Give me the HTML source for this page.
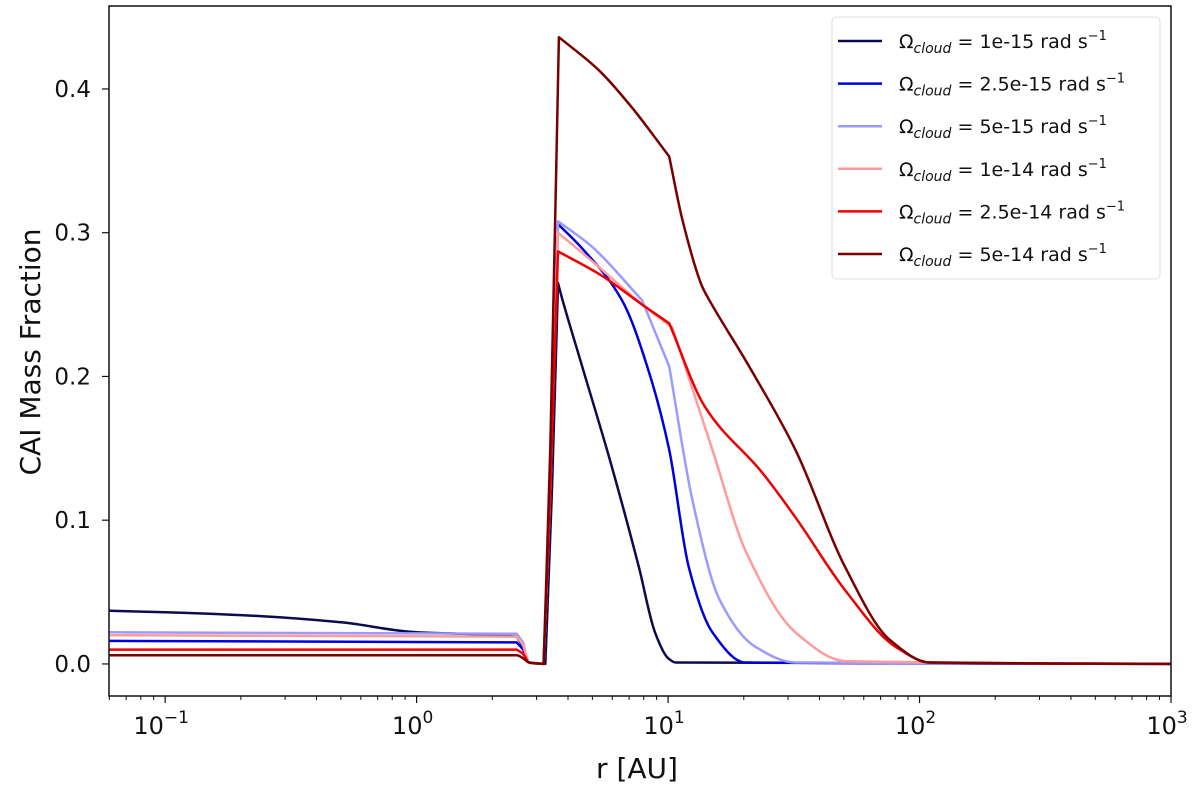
<!DOCTYPE html>
<html><head><meta charset="utf-8"><style>
body{margin:0;background:#fff;width:1200px;height:786px;overflow:hidden}
svg text{font-family:"DejaVu Sans","Liberation Sans",sans-serif;fill:#111}
</style></head><body>
<svg id="chart" width="1200" height="786" xmlns="http://www.w3.org/2000/svg">
<g id="plot"></g>
<g id="axes"></g>
<text x="637" y="778" text-anchor="middle" font-size="28">r [AU]</text>
<text transform="translate(40,352) rotate(-90)" text-anchor="middle" font-size="28">CAI Mass Fraction</text>
<g id="legend"></g>
</svg>
<script>
const seriesLabels=["1e-15","2.5e-15","5e-15","1e-14","2.5e-14","5e-14"];
const seriesColors=["#0b0b4d","#0000dd","#9b9bff","#ff9b9b","#ee0000","#7a0000"];
const rNavy=[0.06,0.1,0.2,0.5,1,1.5,2.5,2.65,2.8,3.25,3.45,3.65,3.78,4.5,5.98,7.66,8.87,10.0,10.7,1000];
const yNavy=[0.037,0.036,0.034,0.029,0.022,0.021,0.019,0.012,0.001,0,0.12,0.265,0.255,0.21,0.137,0.067,0.022,0.004,0.001,0];
const rBlue=[0.06,2.5,2.65,2.8,3.2,3.4,3.65,4.5,6.56,8.5,10.1,12.1,15.0,20.3,1000];
const yBlue=[0.016,0.015,0.01,0.001,0,0.12,0.306,0.29,0.253,0.2,0.149,0.067,0.022,0.001,0];
const rLight=[0.06,2.5,2.65,2.8,3.2,3.4,3.65,5,7.88,10.1,12.5,16,22.2,32.1,1000];
const yLight=[0.022,0.021,0.015,0.001,0,0.12,0.308,0.29,0.253,0.207,0.114,0.045,0.012,0.001,0];
const rPink=[0.06,2.5,2.65,2.8,3.2,3.4,3.65,5,7.9,10.4,15.0,20.3,32.1,50.7,1000];
const yPink=[0.020,0.019,0.013,0.001,0,0.12,0.300,0.28,0.25,0.234,0.149,0.079,0.022,0.002,0];
const rRed=[0.06,2.5,2.65,2.8,3.2,3.4,3.65,5.46,7.88,10.1,14.0,23.7,32.1,50.7,80.2,110,1000];
const yRed=[0.010,0.010,0.007,0.001,0,0.12,0.287,0.27,0.25,0.237,0.179,0.133,0.102,0.051,0.012,0.001,0];
const rDark=[0.06,2.5,2.65,2.8,3.2,3.4,3.68,5.31,7.19,10.1,11.4,13.7,14.6,21.0,32.1,50.7,75.9,110,1000];
const yDark=[0.006,0.006,0.004,0.001,0,0.15,0.436,0.413,0.387,0.353,0.309,0.262,0.253,0.207,0.149,0.067,0.017,0.001,0];
const xTickExp=[-1,0,1,2,3];
const yTicks=[0.0,0.1,0.2,0.3,0.4];

const L=109,R=1171,T=6,B=696;
const xMinLog=Math.log10(0.0598),xMaxLog=3;
const yMin=-0.0223,yMax=0.4577;
function X(r){return L+(Math.log10(r)-xMinLog)/(xMaxLog-xMinLog)*(R-L);}
function Y(v){return B-(v-yMin)/(yMax-yMin)*(B-T);}
const NS="http://www.w3.org/2000/svg";
function mk(tag,attrs,parent){const e=document.createElementNS(NS,tag);for(const k in attrs)e.setAttribute(k,attrs[k]);parent.appendChild(e);return e;}
// monotone cubic path; corners only where the curve suddenly steepens
function monoPath(xs,ys){
  const n=xs.length,d=[],mL=[],mR=[];
  for(let i=0;i<n-1;i++)d.push((ys[i+1]-ys[i])/(xs[i+1]-xs[i]));
  mR[0]=d[0];mL[n-1]=d[n-2];
  for(let i=1;i<n-1;i++){
    const a=d[i-1],b=d[i];
    if(a*b<=0){
      if(Math.abs(a)>0.5||Math.abs(b)>0.5){mL[i]=a;mR[i]=b;}else{mL[i]=mR[i]=0;}
      continue;
    }
    if(Math.abs(b)>2.2*Math.abs(a)){mL[i]=a;mR[i]=b;continue;}
    const w1=2*(xs[i+1]-xs[i])+(xs[i]-xs[i-1]),w2=(xs[i+1]-xs[i])+2*(xs[i]-xs[i-1]);
    mL[i]=mR[i]=(w1+w2)/(w1/a+w2/b);
  }
  let p='M'+xs[0].toFixed(1)+','+ys[0].toFixed(1);
  for(let i=0;i<n-1;i++){
    const h=xs[i+1]-xs[i];
    p+=' C'+(xs[i]+h/3).toFixed(1)+','+(ys[i]+mR[i]*h/3).toFixed(1)+' '+(xs[i+1]-h/3).toFixed(1)+','+(ys[i+1]-mL[i+1]*h/3).toFixed(1)+' '+xs[i+1].toFixed(1)+','+ys[i+1].toFixed(1);
  }
  return p;
}
const plot=document.getElementById('plot'),axes=document.getElementById('axes'),legend=document.getElementById('legend');
const allR=[rNavy,rBlue,rLight,rPink,rRed,rDark],allY=[yNavy,yBlue,yLight,yPink,yRed,yDark];
const cp=mk('clipPath',{id:'cp'},plot);mk('rect',{x:L,y:T,width:R-L,height:B-T},cp);
allR.forEach((rs,i)=>{
  const xs=rs.map(X),ys=allY[i].map(Y);
  const pl=mk('path',{d:monoPath(xs,ys),fill:'none',stroke:seriesColors[i],'stroke-width':2.5,'stroke-linejoin':'round','clip-path':'url(#cp)'},plot);
  
  
});
const frame=mk('rect',{x:L,y:T,width:R-L,height:B-T,fill:'none',stroke:'#111','stroke-width':1.5},axes);


xTickExp.forEach(e=>{
  const x=X(Math.pow(10,e));
  mk('line',{x1:x,x2:x,y1:B,y2:B+7,stroke:'#111','stroke-width':1.2},axes);
  const t=mk('text',{x:x-4,y:B+38,'text-anchor':'middle','font-size':24},axes);
  t.textContent='10';
  const s=mk('tspan',{dy:-11,'font-size':17},t);s.textContent=e<0?'\u2212'+Math.abs(e):String(e);
  
  
});
for(let e=-2;e<3;e++)for(let m=2;m<10;m++){const r=m*Math.pow(10,e);if(r<0.0598||r>1000)continue;const x=X(r);mk('line',{x1:x,x2:x,y1:B,y2:B+4,stroke:'#111','stroke-width':1},axes);}
yTicks.forEach(v=>{
  const y=Y(v);
  mk('line',{x1:L-7,x2:L,y1:y,y2:y,stroke:'#111','stroke-width':1.2},axes);
  const t=mk('text',{x:L-18,y:y+8,'text-anchor':'end','font-size':23},axes);
  t.textContent=v.toFixed(1);
  
  
});
const box=mk('rect',{x:832,y:17,width:328,height:262,rx:4,fill:'#fff',stroke:'#ddd','stroke-width':1},legend);


seriesLabels.forEach((lab,i)=>{
  const y=41+i*42.6;
  const g=mk('g',{},legend);
  
  
  mk('line',{x1:838,x2:882,y1:y,y2:y,stroke:seriesColors[i],'stroke-width':2.5},g);
  const t=mk('text',{x:899,y:y+7,'font-size':19},g);
  t.textContent='\u03A9';
  const sub=mk('tspan',{dy:5,'font-size':14,'font-style':'italic'},t);sub.textContent='cloud';
  const m=mk('tspan',{dy:-5},t);m.textContent=' = '+lab+' rad s';
  const sup=mk('tspan',{dy:-8,'font-size':13},t);sup.textContent='\u22121';
});
</script>
</body></html>
